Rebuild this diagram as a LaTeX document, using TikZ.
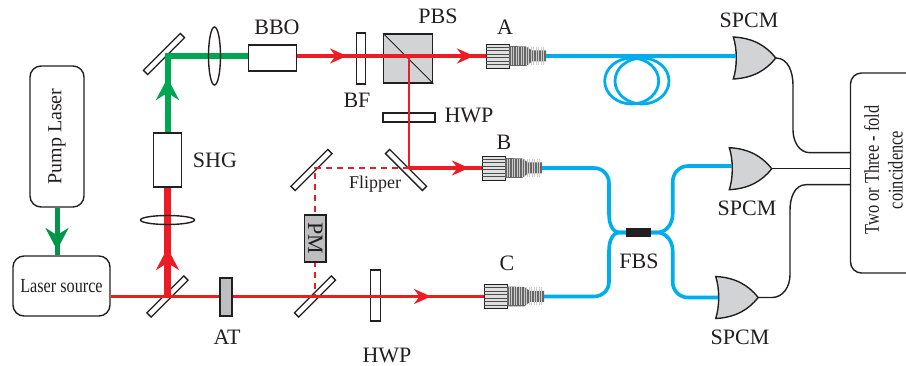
\documentclass[tikz,border=0pt]{standalone}
\usepackage{graphicx}
\usepackage{fontspec}
\setmainfont{Liberation Serif}
\usetikzlibrary{arrows.meta,positioning,shapes.geometric}
\definecolor{beamred}{HTML}{ED1C24}
\definecolor{beamgreen}{HTML}{00A651}
\definecolor{fiberblue}{HTML}{00AEEF}
\definecolor{partgray}{HTML}{D1D3D4}
\definecolor{darkgray}{HTML}{BCBEC0}
\definecolor{inkblack}{HTML}{231F20}
\tikzset{
  lab/.style={inner sep=0pt,text=inkblack,font=\fontsize{22}{26}\selectfont},
  outline/.style={draw=inkblack,line width=1.4pt,inner sep=0pt},
  roundbox/.style={outline,rounded corners=11pt,font=\fontsize{20}{24}\selectfont,text=inkblack},
  mirrorbar/.style={outline,fill=white,minimum width=52pt,minimum height=6pt},
  plate/.style={outline,fill=white},
  lensbody/.style={outline,ellipse},
  redthin/.style={draw=beamred,line width=3.2pt},
  redfine/.style={draw=beamred,line width=2pt},
  redthick/.style={draw=beamred,line width=7pt},
  greenthick/.style={draw=beamgreen,line width=6pt},
  fiber/.style={draw=fiberblue,line width=3.6pt},
  wire/.style={draw=inkblack,line width=1.4pt},
  headbig/.style={-{Stealth[length=22pt,width=23pt]}},
  headsmall/.style={-{Stealth[length=17pt,width=15pt]}},
  coupler/.pic={
    \filldraw[draw=inkblack,fill=black!12,line width=.8pt] (0,-12) rectangle (23,12);
    \foreach \yy in {-8.5,-5,-1.5,2,5.5,9}
      \draw[black!70,line width=1pt] (0,\yy) -- (23,\yy);
    \fill[black!60] (23,-10) -- (40,-9.5) -- (46,-5.5) -- (60,-5.5) -- (60,5.5) -- (46,5.5) -- (40,10) -- (23,10) -- cycle;
    \foreach \xx in {25,27.5,...,58}
      \draw[white!80!black,line width=.7pt] (\xx,-9) -- (\xx,9);
    \coordinate (-in) at (0,0);
    \coordinate (-fiber) at (60,0);
  },
  spcm/.pic={
    \filldraw[draw=inkblack,fill=partgray,line width=1.4pt] (0,-21) .. controls (4,-9) and (4,9) .. (0,21)
      .. controls (20,20) and (33,12) .. (42.5,0) .. controls (33,-12) and (20,-20) .. (0,-21) -- cycle;
    \coordinate (-in) at (2.5,0);
    \coordinate (-out) at (42.5,0);
  }
}
\begin{document}
\begin{tikzpicture}[x=1pt,y=-1pt]
  \useasboundingbox (0,0) rectangle (906,366);
  \clip (0,0) rectangle (906,366);
  % boxes
  \node[roundbox,minimum width=54pt,minimum height=141pt] (pump) at (57,136.5) {\rotatebox{90}{Pump Laser}};
  \node[roundbox,minimum width=97pt,minimum height=60pt] (source) at (61.5,286) {\scalebox{.81}[1]{\fontsize{20}{24}\selectfont Laser source}};
  \node[plate,minimum width=27.5pt,minimum height=54pt] (shg) at (167.5,160) {};
  \node[plate,minimum width=48.5pt,minimum height=26pt] (bbo) at (272.5,58) {};
  \node[roundbox,minimum width=75pt,minimum height=200pt] (coinc) at (888,173) {};
  % mirrors and plates
  \node[mirrorbar,rotate=45] (mirrorpump) at (167.5,296.5) {};
  \node[mirrorbar,rotate=45] (mirrortop) at (164,54) {};
  \node[mirrorbar,rotate=45] (flipleft) at (311.5,170) {};
  \node[mirrorbar,rotate=-45] (flipright) at (406,170) {};
  \node[mirrorbar,rotate=45] (mirrorlow) at (315,296.5) {};
  \node[plate,minimum width=9.5pt,minimum height=51pt] (bf) at (361,58.5) {};
  \node[plate,fill=partgray,minimum width=49pt,minimum height=49pt] (pbs) at (408.2,58.5) {};
  \draw[inkblack,line width=.8pt] (pbs.north west) -- (pbs.south east);
  \node[plate,minimum width=52pt,minimum height=9pt] (hwpup) at (409,117.5) {};
  \node[plate,minimum width=9.5pt,minimum height=51pt] (hwplow) at (375.5,295.5) {};
  % couplers and detectors
  \pic (coupA) at (486,56) {coupler};
  \pic (coupB) at (482,168) {coupler};
  \pic (coupC) at (484,296.5) {coupler};
  \pic (spcmA) at (733.3,58) {spcm};
  \pic (spcmB) at (729.3,168.7) {spcm};
  \pic (spcmC) at (715.7,297.5) {spcm};
  \node[fill=inkblack,minimum width=25pt,minimum height=9.5pt,inner sep=0pt] (fbs) at (638.5,232.5) {};
  \coordinate (fbsleft) at (620,232.5);
  \coordinate (fbsright) at (657,232.5);
  % green beams
  \draw[draw=beamgreen!90!black,line width=5pt] (pump.south) -- (pump.south |- source.north);
  \draw[draw=beamgreen!90!black,line width=5pt,headbig] (pump.south) -- (57,250);
  \draw[greenthick] (shg.north) |- (bbo.west |- coupA-in);
  \draw[greenthick,headbig] (shg.north) -- (167.5,78);
  % red beams
  \draw[redthin] (source.east |- mirrorpump.center) -- (coupC-in);
  \draw[redthin,headsmall] (mirrorlow.center) -- (431,296.5);
  \draw[redthick] (mirrorpump.center) -- (shg.south);
  \draw[redthick,headbig] (mirrorpump.center) -- (167.5,248);
  \draw[redthin] (bbo.east |- coupA-in) -- (coupA-in);
  \draw[redthin,headsmall] (bbo.east |- coupA-in) -- (347,56);
  \draw[redthin,headsmall] (408.5,56) -- (474,56);
  \draw[redfine] (408.5,56) -- (408.5,168);
  \draw[redthin] (408.5,168) -- (coupB-in);
  \draw[redthin,headsmall] (408.5,168) -- (469,168);
  \draw[redfine,dashed,dash pattern=on 6pt off 5pt] (408.5,168) -- (315,168) -- (mirrorlow.center);
  % parts above the beams
  \node[plate,fill=darkgray,minimum width=12pt,minimum height=38pt] (at) at (226,297) {};
  \node[plate,fill=darkgray,minimum width=21.5pt,minimum height=47pt,text=inkblack,font=\fontsize{22}{26}\selectfont] (pm) at (315.2,238.5) {\rotatebox{-90}{PM}};
  \node[lensbody,minimum width=12pt,minimum height=58pt] (lensup) at (214.5,56) {};
  \node[lensbody,minimum width=54pt,minimum height=9pt] (lensdown) at (167.5,220) {};
  % fibers
  \draw[fiber] (coupA-fiber) -- (spcmA-in |- coupA-fiber);
  \draw[fiber,line width=2.8pt] (631.7,81) ellipse [x radius=27,y radius=23];
  \draw[fiber,line width=2.8pt] (642,81) ellipse [x radius=27,y radius=23];
  \draw[fiber] (coupB-fiber) -- (594,168) to[out=0,in=90] (609,183) -- (609,214) to[out=-90,in=180] (fbsleft) -- (fbs.west);
  \draw[fiber] (coupC-fiber) -- (594,296.5) to[out=0,in=-90] (609,282) -- (609,251) to[out=90,in=180] (fbsleft) -- (fbs.west);
  \draw[fiber] (fbs.east) -- (fbsright) to[out=0,in=-90] (672.7,214) -- (672.7,182) to[out=90,in=180] (688,166) -- (spcmB-in |- 0,166);
  \draw[fiber] (fbs.east) -- (fbsright) to[out=0,in=90] (672.7,251) -- (672.7,282) to[out=-90,in=180] (688,297.5) -- (spcmC-in);
  % wires to the coincidence box
  \draw[wire] (spcmA-out) to[out=0,in=90] (793,85) -- (793,130) to[out=-90,in=180] (810,152.7) -- (coinc.west |- 0,152.7);
  \draw[wire] (spcmB-out) -- (coinc.west |- spcmB-out);
  \draw[wire] (spcmC-out) -- (772,297.5) to[out=0,in=-90] (790,275) -- (790,210) to[out=90,in=180] (806,184.7) -- (coinc.west |- 0,184.7);
  % labels
  \node[lab] (lbbbo) at (277,27) {BBO};
  \node[lab] (lbpbs) at (438,16) {PBS};
  \node[lab] (lbbf) at (357,100) {BF};
  \node[lab] (lbhwpup) at (469,115) {HWP};
  \node[lab] (lbhwplow) at (387,355) {HWP};
  \node[lab] (lbshg) at (215,160) {SHG};
  \node[lab] (lbat) at (227,337) {AT};
  \node[lab] (lba) at (505,27) {A};
  \node[lab] (lbb) at (504,142) {B};
  \node[lab] (lbc) at (507,263) {C};
  \node[lab] (lbfbs) at (639,261) {FBS};
  \node[lab] (lbspcma) at (749,20) {SPCM};
  \node[lab] (lbspcmb) at (747,208) {SPCM};
  \node[lab] (lbspcmc) at (740,337) {SPCM};
  \node[lab,font=\fontsize{18}{22}\selectfont] (lbflip) at (375,184) {Flipper};
  \node[lab,rotate=90] (lbfold) at (871.7,170) {\scalebox{.78}[1]{\fontsize{21}{25}\selectfont Two or Three - fold}};
  \node[lab,rotate=90] (lbcoin) at (895.5,170) {\scalebox{.78}[1]{\fontsize{21}{25}\selectfont coincidence}};
\end{tikzpicture}
\end{document}
